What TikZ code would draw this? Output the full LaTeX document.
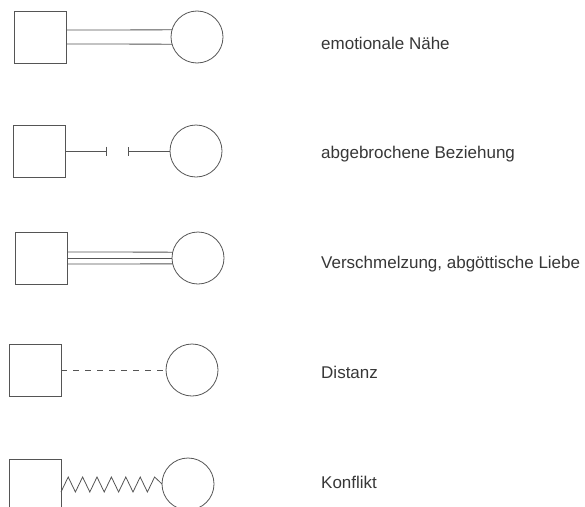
\documentclass[tikz,border=0pt]{standalone}
\usepackage{fontspec}
\setmainfont{Liberation Sans}
\usepackage{tikz}
\usetikzlibrary{arrows.meta}
\usepackage{xcolor}
\definecolor{line-gray}{RGB}{85,85,85}
\definecolor{text-gray}{RGB}{55,55,55}
\tikzstyle{male}=[draw=line-gray, line width=0.8pt, rectangle, minimum size=52pt, inner sep=0pt, outer sep=0pt]
\tikzstyle{female}=[draw=line-gray, line width=0.8pt, circle, minimum size=52pt, inner sep=0pt, outer sep=0pt]
\tikzstyle{tie}=[draw=line-gray, line width=0.8pt]
\tikzstyle{legend}=[anchor=base west, inner sep=0pt, text=text-gray, font=\fontsize{17}{20}\selectfont]

\begin{document}
\begin{tikzpicture}[x=1pt,y=-1pt]
	\useasboundingbox (0,0) rectangle (585,506);
	\node[male] (m1) at (40,37) {};
	\node[female] (f1) at (197,37) {};
	\draw[tie] ([yshift=7pt]m1.east) -- (f1.164);
	\draw[tie] ([yshift=-7pt]m1.east) -- (f1.196);
	\node[legend] (t1) at (321,49) {emotionale Nähe};
	\node[male] (m2) at (39,151) {};
	\node[female] (f2) at (196,151) {};
	\coordinate (b2l) at (107,151);
	\coordinate (b2r) at (128,151);
	\draw[tie, -{Bar[width=9pt]}] (m2.east) -- (b2l);
	\draw[tie, -{Bar[width=9pt]}] (f2.west) -- (b2r);
	\node[legend] (t2) at (321,158) {abgebrochene Beziehung};
	\node[male] (m3) at (41,258) {};
	\node[female] (f3) at (198,258) {};
	\draw[tie] ([yshift=6pt]m3.east) -- (f3.167);
	\draw[tie] (m3.east) -- (f3.west);
	\draw[tie] ([yshift=-6pt]m3.east) -- (f3.193);
	\node[legend] (t3) at (321,268) {Verschmelzung, abgöttische Liebe};
	\node[male] (m4) at (35,370) {};
	\node[female] (f4) at (192,370) {};
	\draw[tie, dash pattern=on 6pt off 6pt] (m4.east) -- (f4.west);
	\node[legend] (t4) at (321,378) {Distanz};
	\node[male] (m5) at (35,485) {};
	\node[female] (f5) at (188,484) {};
	\draw[tie, line join=miter] ([yshift=-7pt]m5.east) \foreach \i in {1,...,6} { -- ++(7.2,-15) -- ++(7.2,15) } -- ++(7.2,-15) -- (f5.west);
	\node[legend] (t5) at (321,488) {Konflikt};
\end{tikzpicture}
\end{document}
